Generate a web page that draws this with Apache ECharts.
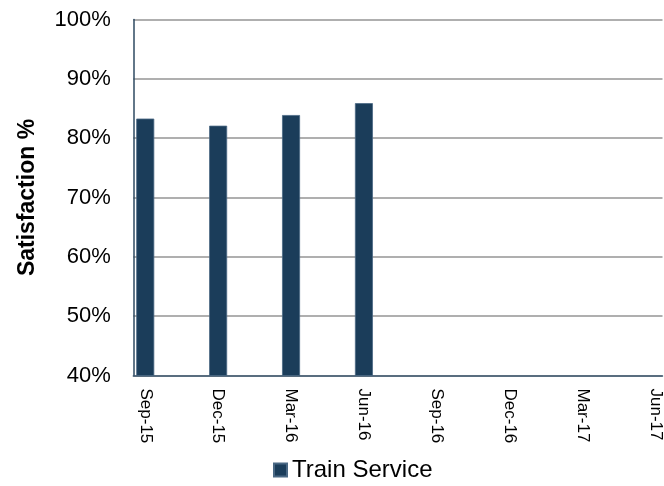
<!DOCTYPE html>
<html>
<head>
<meta charset="utf-8">
<script src="https://cdn.jsdelivr.net/npm/echarts@6/dist/echarts.min.js"></script>
<style>html,body{margin:0;padding:0;background:#fff}#c{width:664px;height:486px}</style>
</head>
<body>
<div id="c"></div>
<script>
var categories = ['Sep-15','Dec-15','Mar-16','Jun-16','Sep-16','Dec-16','Mar-17','Jun-17'];
var trainService = [83.3, 82.1, 83.9, 85.9, null, null, null, null];
var yTicks = [40, 50, 60, 70, 80, 90, 100];
var seriesName = 'Train Service';
var yTitle = 'Satisfaction %';

var FONT = '"Liberation Sans", Arial, sans-serif';
var chart = echarts.init(document.getElementById('c'), null, {renderer: 'canvas'});
var points = [];
for (var i = 0; i < categories.length; i++) {
  if (trainService[i] != null) points.push([i, trainService[i]]);
}
chart.setOption({
  animation: false,
  backgroundColor: '#ffffff',
  grid: {left: 133.3, top: 19.5, bottom: 110.5, right: 0, containLabel: false},
  legend: {
    data: [seriesName],
    left: 273, top: 458,
    icon: 'rect', itemWidth: 13, itemHeight: 13, itemGap: 8,
    textStyle: {fontFamily: FONT, fontSize: 24, color: '#000'},
    padding: 0
  },
  xAxis: {
    type: 'value',
    min: -0.164, max: 7.096,
    axisLine: {show: true, onZero: false, lineStyle: {color: '#3e5870', width: 1.5}},
    axisTick: {show: false},
    splitLine: {show: false},
    axisLabel: {
      customValues: categories.map(function (c, k) { return k; }),
      formatter: function (v) { return categories[Math.round(v)] || ''; },
      rotate: -90, margin: 13,
      fontFamily: FONT, fontSize: 17, color: '#000'
    }
  },
  yAxis: {
    type: 'value', min: yTicks[0], max: yTicks[yTicks.length - 1], interval: 10,
    name: yTitle, nameLocation: 'middle', nameGap: 94, nameRotate: 90,
    nameTextStyle: {fontFamily: FONT, fontSize: 23, fontWeight: 'bold', color: '#000'},
    axisLine: {show: true, onZero: false, lineStyle: {color: '#2e4a62', width: 1.5}},
    axisTick: {show: false},
    axisLabel: {formatter: '{value}%', margin: 22.5, fontFamily: FONT, fontSize: 22, color: '#000'},
    splitLine: {show: true, lineStyle: {color: '#959595', width: 1.5}}
  },
  series: [{
    name: seriesName, type: 'bar', data: points, barWidth: 18,
    itemStyle: {color: '#1b3d5a', borderColor: '#4a6884', borderWidth: 0.8}
  }]
});
</script>
</body>
</html>
